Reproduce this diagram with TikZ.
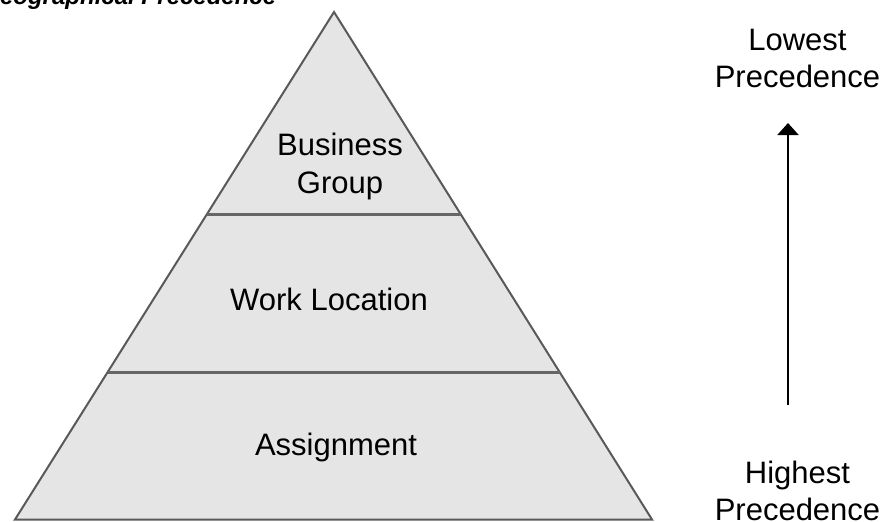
\documentclass[tikz,border=0pt]{standalone}
\usepackage{fontspec}
\setmainfont{Liberation Sans}
\usetikzlibrary{arrows.meta,calc}
\tikzset{
  lbl/.style={anchor=base, inner sep=0pt, font=\fontsize{15.5pt}{18.5pt}\selectfont},
  tier/.style={draw=black!60, line width=1.4pt},
}
\begin{document}
\begin{tikzpicture}[x=0.5pt, y=-0.5pt]
	\useasboundingbox (0,0) rectangle (884,521);
	
	\coordinate (apex) at (334,12);
	\coordinate (bl) at (15,519.5);
	\coordinate (br) at (652,519.5);
	
	\draw[fill=black!10, draw=black!65, line width=1pt] (apex) -- (bl) -- (br) -- cycle;
	\draw[tier] ($(apex)!0.399!(bl)$) -- ($(apex)!0.399!(br)$);
	\draw[tier] ($(apex)!0.71!(bl)$) -- ($(apex)!0.71!(br)$);
	
	\node[lbl] (bus) at (340,155) {Business};
	\node[lbl] (grp) at (340,193) {Group};
	\node[lbl] (work) at (329,310) {Work Location};
	\node[lbl] (asg) at (336,455) {Assignment};
	
	\node[lbl] (low) at (797.5,50) {Lowest};
	\node[lbl] (lowp) at (797.5,87) {Precedence};
	\node[lbl] (high) at (797.5,483) {Highest};
	\node[lbl] (highp) at (797.5,520) {Precedence};
	
	\coordinate (tip) at (788,123);
	\coordinate (tail) at (788,405);
	\draw[-{Triangle[width=10.5pt,length=6pt]}, line width=1pt] (tail) -- (tip);
	
	\node[anchor=base west, inner sep=0pt, font=\bfseries\itshape\fontsize{12pt}{14pt}\selectfont] (title) at (-19,4) {Geographical Precedence};
\end{tikzpicture}
\end{document}
